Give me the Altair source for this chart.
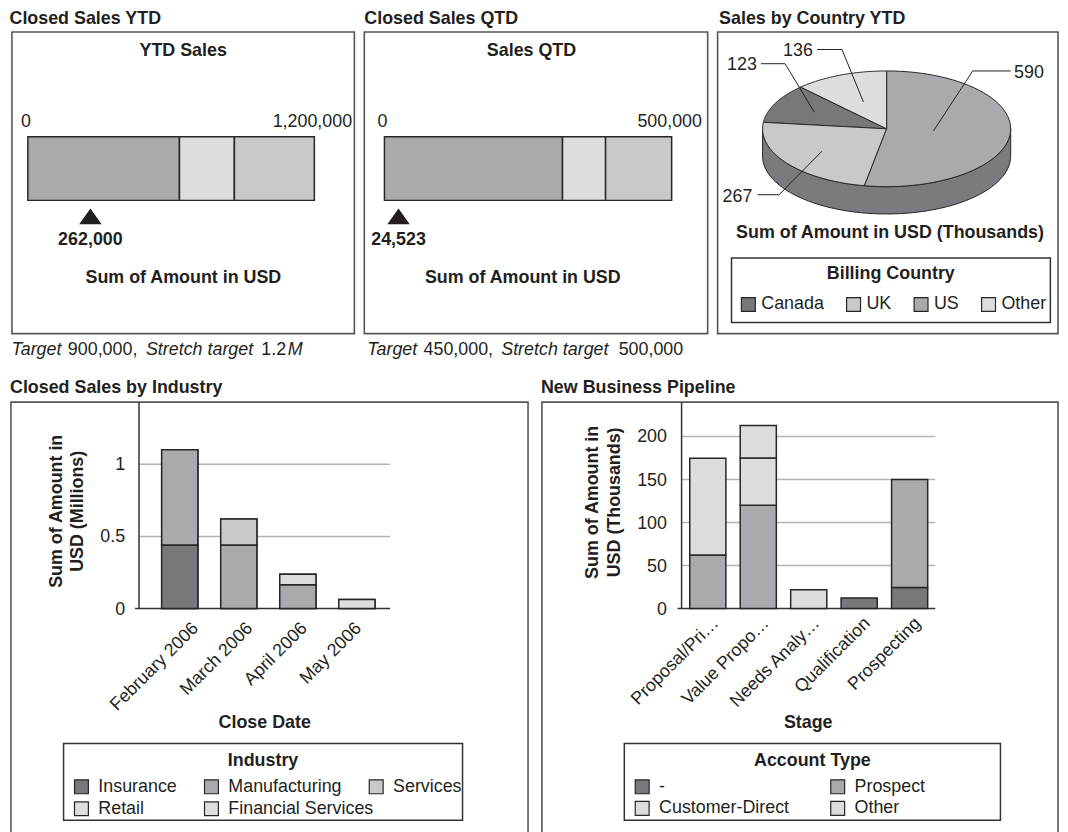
import altair as alt
import pandas as pd

# ---------------- data ----------------
ytd_ranges = [635000, 865000, 1200000]
ytd_actual = 262000
qtd_ranges = [310000, 385000, 500000]
qtd_actual = 24523

countries = ["Canada", "UK", "US", "Other"]
country_amount = [123, 267, 590, 136]

months = ["February 2006", "March 2006", "April 2006", "May 2006"]
industries = ["Insurance", "Manufacturing", "Services", "Retail", "Financial Services"]
ind_insurance = [0.44, 0, 0, 0]
ind_manufacturing = [0.66, 0.44, 0.165, 0]
ind_services = [0, 0.18, 0, 0]
ind_retail = [0, 0, 0.073, 0]
ind_financial = [0, 0, 0, 0.062]
ind_ticks = [0, 0.5, 1]

stages = ["Proposal/Price Quote", "Value Proposition", "Needs Analysis", "Qualification", "Prospecting"]
account_types = ["-", "Prospect", "Customer-Direct", "Other"]
pipe_dash = [0, 0, 0, 12.3, 24.6]
pipe_prospect = [62.4, 120, 0, 0, 125.4]
pipe_customer = [112.3, 55, 22, 0, 0]
pipe_other = [0, 37.8, 0, 0, 0]
pipe_ticks = [0, 50, 100, 150, 200]

# ---------------- style / layout ----------------
FONT = "Liberation Sans"
INK = "#231f20"
EDGE = "#262626"
FRAME = "#555555"
GRID = "#b4b4b4"
DARK, MID, MIDLIGHT, LIGHT = "#77787c", "#a9aaad", "#c8c9cb", "#dcdddf"

W, H = 1060, 824
OFF = 8  # page margin: reference pixel -> canvas pixel


def cx(v):
    return v - OFF


def cy(v):
    return v - OFF


ONE = pd.DataFrame({"k": [0]})


def text(s, x, y, size=18, bold=False, italic=False, align="left", baseline="alphabetic", **kw):
    props = dict(text=s, font=FONT, fontSize=size, color=INK, align=align, baseline=baseline)
    if bold:
        props["fontWeight"] = "bold"
    if italic:
        props["fontStyle"] = "italic"
    props.update(kw)
    return alt.Chart(ONE).mark_text(**props).encode(x=alt.value(cx(x)), y=alt.value(cy(y)))


def frame(x0, y0, x1, y1, color=FRAME, width=1.6):
    return alt.Chart(ONE).mark_rect(fill="transparent", stroke=color, strokeWidth=width).encode(
        x=alt.value(cx(x0)), x2=alt.value(cx(x1)), y=alt.value(cy(y0)), y2=alt.value(cy(y1)))


def seg(x0, y0, x1, y1, color=EDGE, width=1.5):
    return alt.Chart(ONE).mark_rule(color=color, strokeWidth=width).encode(
        x=alt.value(cx(x0)), x2=alt.value(cx(x1)), y=alt.value(cy(y0)), y2=alt.value(cy(y1)))


def legend(x, y, cols, colpad, offset=8, values=None, rowpad=2):
    kw = dict(orient="none", legendX=cx(x), legendY=cy(y), direction="horizontal",
              columns=cols, title=None, symbolType="square", symbolSize=196,
              symbolStrokeColor=EDGE, symbolStrokeWidth=1.2, symbolOpacity=1,
              labelFont=FONT, labelFontSize=18, labelColor=INK, labelOffset=offset,
              columnPadding=colpad, rowPadding=rowpad, padding=0, labelLimit=400)
    if values is not None:
        kw["values"] = values
    return alt.Legend(**kw)


layers = []

# ---------------- frames & titles ----------------
for t, x, y in [("Closed Sales YTD", 9.5, 21), ("Closed Sales QTD", 367, 21),
                ("Sales by Country YTD", 724.5, 21), ("Closed Sales by Industry", 10, 392.7),
                ("New Business Pipeline", 545, 392.7)]:
    layers.append(text(t, x, y, bold=True))

for b in [(12, 29, 357, 333), (367, 29, 713, 333), (723, 29, 1066, 333),
          (11, 402, 532, 845), (546, 402, 1066, 845)]:
    layers.append(frame(*b))


# ---------------- bullet charts ----------------
def bullet(tag, ranges, actual, x0, x1):
    xs = alt.Scale(domain=[0, ranges[-1]], range=[cx(x0), cx(x1)], nice=False, zero=False)
    ys = alt.Scale(domain=[tag], range=[cy(134.7), cy(198.7)], paddingInner=0, paddingOuter=0)
    df = pd.DataFrame({"row": [tag] * len(ranges), "start": [0] + ranges[:-1], "end": ranges,
                       "band": ["b1", "b2", "b3"]})
    bands = alt.Chart(df).mark_bar(stroke=EDGE, strokeWidth=1.5).encode(
        x=alt.X("start:Q", scale=xs, axis=None), x2="end:Q",
        y=alt.Y("row:N", scale=ys, axis=None),
        color=alt.Color("band:N", scale=alt.Scale(domain=["b1", "b2", "b3"],
                                                  range=[MID, LIGHT, MIDLIGHT]), legend=None))
    ends = alt.Chart(pd.DataFrame({"v": [0, ranges[-1]]})).mark_text(
        font=FONT, fontSize=18, color=INK, baseline="alphabetic", align="center", dx=-2).encode(
        x=alt.X("v:Q", scale=xs, axis=None), y=alt.value(cy(125)), text=alt.Text("v:Q", format=","))
    act = pd.DataFrame({"v": [actual]})
    marker = alt.Chart(act).mark_point(shape="M0,-0.7L1,0.7L-1,0.7Z", filled=True, color=INK,
                                       size=511, opacity=1).encode(
        x=alt.X("v:Q", scale=xs, axis=None), y=alt.value(cy(214.9)))
    value = alt.Chart(act).mark_text(font=FONT, fontSize=18, fontWeight="bold", color=INK,
                                     baseline="alphabetic", align="center").encode(
        x=alt.X("v:Q", scale=xs, axis=None), y=alt.value(cy(243.3)),
        text=alt.Text("v:Q", format=","))
    return [bands, ends, marker, value]


layers += bullet("YTD", ytd_ranges, ytd_actual, 28, 316.7)
layers += bullet("QTD", qtd_ranges, qtd_actual, 387.3, 676.7)
layers.append(text("YTD Sales", 184.5, 53, bold=True, align="center"))
layers.append(text("Sales QTD", 535.5, 53, bold=True, align="center"))
layers.append(text("Sum of Amount in USD", 184.7, 282, bold=True, align="center"))
layers.append(text("Sum of Amount in USD", 526.7, 282, bold=True, align="center"))

for s, x, it in [("Target", 11.5, True), ("900,000,", 68.3, False), ("Stretch target", 147, True),
                 ("1.2", 263.3, False), ("M", 290, True),
                 ("Target", 370, True), ("450,000,", 426.7, False), ("Stretch target", 505, True),
                 ("500,000", 623.3, False)]:
    layers.append(text(s, x, 355, italic=it))

# ---------------- 3-D pie ----------------
PCX, PCY = cx(893.3), cy(126.6)
RX, RY, DEPTH = 125, 58.3, 27.5
pie_x = alt.Scale(domain=[-1, 1], range=[PCX - RX, PCX + RX], nice=False, zero=False)
pie_y = alt.Scale(domain=[-1, 1], range=[PCY + RY, PCY - RY], nice=False, zero=False)
pie_clockwise = ["US", "UK", "Canada", "Other"]
pie_colors = [DARK, MIDLIGHT, MID, LIGHT]

# label layout (reference pixels): text centre/baseline, leader start, elbow, leader depth
lab_layout = {
    "Canada": (747.5, 67.7, 766.7, 791.0, 61.0, 0.65),
    "UK": (743.0, 200.0, 763.3, 785.0, 193.0, 0.65),
    "US": (1036.7, 75.0, 1018.3, 980.0, 68.3, 0.38),
    "Other": (804.0, 53.3, 823.3, 848.3, 46.7, 0.50),
}
pie_df = pd.DataFrame({"country": countries, "amount": country_amount})
pie_df["rank"] = [pie_clockwise.index(c) for c in countries]
pie_df["tx"] = [cx(lab_layout[c][0]) for c in countries]
pie_df["ty"] = [cy(lab_layout[c][1]) for c in countries]
pie_df["lx"] = [cx(lab_layout[c][2]) for c in countries]
pie_df["ex"] = [cx(lab_layout[c][3]) for c in countries]
pie_df["ly"] = [cy(lab_layout[c][4]) for c in countries]
pie_df["fr"] = [lab_layout[c][5] for c in countries]

pie_base = (alt.Chart(pie_df)
            .transform_joinaggregate(total="sum(amount)")
            .transform_window(cum="sum(amount)", sort=[alt.SortField("rank")], frame=[None, 0])
            .transform_calculate(a0="2*PI*(datum.cum-datum.amount)/datum.total",
                                 a1="2*PI*datum.cum/datum.total"))

side = (alt.Chart(alt.sequence(0, 61, as_="k"))
        .transform_calculate(a="PI/2 + PI*datum.k/60")
        .transform_calculate(ux="sin(datum.a)", uy="cos(datum.a)",
                             uy2=f"cos(datum.a) - {DEPTH / RY}")
        .mark_area(fill="#7a7b7f", stroke=EDGE, strokeWidth=1, opacity=1)
        .encode(x=alt.X("ux:Q", scale=pie_x, axis=None),
                y=alt.Y("uy:Q", scale=pie_y, axis=None), y2="uy2:Q"))
layers.append(side)

slices = (pie_base
          .transform_calculate(ks="sequence(0, 62)")
          .transform_flatten(["ks"])
          .transform_calculate(a="datum.a0 + (datum.a1 - datum.a0)*clamp((datum.ks-1)/59, 0, 1)",
                               edge="datum.ks > 0 && datum.ks < 61")
          .transform_calculate(ux="datum.edge ? sin(datum.a) : 0",
                               uy="datum.edge ? cos(datum.a) : 0")
          .mark_line(stroke=EDGE, strokeWidth=1, interpolate="linear")
          .encode(x=alt.X("ux:Q", scale=pie_x, axis=None),
                  y=alt.Y("uy:Q", scale=pie_y, axis=None),
                  order=alt.Order("ks:Q"), detail="country:N",
                  fill=alt.Fill("country:N", scale=alt.Scale(domain=countries, range=pie_colors),
                                legend=legend(745, 294.3, 4, 19, offset=4))))
layers.append(slices)

leaders = (pie_base
           .transform_calculate(mid="(datum.a0+datum.a1)/2", ks="[0, 1, 2]")
           .transform_flatten(["ks"])
           .transform_calculate(
               px=f"datum.ks == 0 ? datum.lx : datum.ks == 1 ? datum.ex : {PCX} + {RX}*datum.fr*sin(datum.mid)",
               py=f"datum.ks < 2 ? datum.ly : {PCY} - {RY}*datum.fr*cos(datum.mid)")
           .mark_line(stroke=INK, strokeWidth=1)
           .encode(x=alt.X("px:Q", scale=None, axis=None), y=alt.Y("py:Q", scale=None, axis=None),
                   order=alt.Order("ks:Q"), detail="country:N"))
layers.append(leaders)

pie_labels = alt.Chart(pie_df).mark_text(font=FONT, fontSize=18, color=INK, align="center",
                                         baseline="alphabetic").encode(
    x=alt.X("tx:Q", scale=None, axis=None), y=alt.Y("ty:Q", scale=None, axis=None),
    text="amount:Q")
layers.append(pie_labels)

layers.append(text("Sum of Amount in USD (Thousands)", 896.7, 237, bold=True, align="center"))
layers.append(frame(737, 256.7, 1058.3, 321.7, color="#333333", width=1.5))
layers.append(text("Billing Country", 897.5, 278.3, bold=True, align="center"))


# ---------------- stacked bar charts ----------------
def long_table(cats, groups, series, cat_name, grp_name):
    rows = []
    for gi, (g, vals) in enumerate(zip(groups, series)):
        for c, v in zip(cats, vals):
            if v > 0:
                rows.append({cat_name: c, grp_name: g, "amount": v, "rank": gi})
    return pd.DataFrame(rows)


def bar_panel(df, cats, groups, colors, cat_field, grp_field, ticks, ymax,
              axis_x, x_end, lab_range, lab_y, lab_limit, ytitle, ytitle_pos, xtitle, xtitle_pos,
              tick_right, pad_in, pad_out, align, legends):
    out = []
    xs = alt.Scale(domain=cats, range=[cx(axis_x), cx(x_end)], paddingInner=pad_in,
                   paddingOuter=pad_out, align=align)
    ys = alt.Scale(domain=[0, ymax], range=[cy(610), cy(402)], nice=False, zero=False)
    tdf = pd.DataFrame({"v": ticks})
    grid = alt.Chart(tdf[tdf.v > 0]).mark_rule(color=GRID, strokeWidth=1.5).encode(
        y=alt.Y("v:Q", scale=ys, axis=None), x=alt.value(cx(axis_x)), x2=alt.value(cx(x_end)))
    out.append(grid)
    out.append(seg(axis_x, 402, axis_x, 610, color="#333333", width=1.5))
    base = alt.Chart(tdf[tdf.v == 0]).mark_rule(color="#333333", strokeWidth=1.5).encode(
        y=alt.Y("v:Q", scale=ys, axis=None), x=alt.value(cx(axis_x - 4)), x2=alt.value(cx(x_end)))
    out.append(base)
    # the same stacked bars, each copy carrying one row of the legend
    for leg in legends:
        bars = alt.Chart(df).mark_bar(stroke=EDGE, strokeWidth=1.5, opacity=1).encode(
            x=alt.X(f"{cat_field}:N", scale=xs, axis=None),
            y=alt.Y("amount:Q", stack="zero", scale=ys, axis=None),
            order=alt.Order("rank:Q"),
            color=alt.Color(f"{grp_field}:N", scale=alt.Scale(domain=groups, range=colors),
                            legend=leg))
        out.append(bars)
    ticklab = alt.Chart(tdf).mark_text(font=FONT, fontSize=18, color=INK, align="right",
                                       baseline="middle", dy=1).encode(
        y=alt.Y("v:Q", scale=ys, axis=None), x=alt.value(cx(tick_right)), text="v:Q")
    out.append(ticklab)
    labs = alt.Chart(pd.DataFrame({cat_field: cats})).mark_text(
        font=FONT, fontSize=18, color=INK, align="right", baseline="top", angle=315,
        limit=lab_limit).encode(
        x=alt.X(f"{cat_field}:N", scale=alt.Scale(type="point", domain=cats,
                                                  range=[cx(lab_range[0]), cx(lab_range[1])],
                                                  padding=0), axis=None),
        y=alt.value(cy(lab_y)), text=f"{cat_field}:N")
    out.append(labs)
    out.append(text(ytitle, ytitle_pos[0], ytitle_pos[1], bold=True, align="center",
                    baseline="middle", angle=270, lineHeight=22))
    out.append(text(xtitle, xtitle_pos[0], xtitle_pos[1], bold=True, align="center"))
    return out


ind_df = long_table(months, industries,
                    [ind_insurance, ind_manufacturing, ind_services, ind_retail, ind_financial],
                    "month", "industry")
layers += bar_panel(ind_df, months, industries, [DARK, MID, MIDLIGHT, LIGHT, LIGHT],
                    "month", "industry", ind_ticks, 1.43,
                    140, 393, (190.8, 355.1), 621, 400,
                    ["Sum of Amount in", "USD (Millions)"], (57, 512), "Close Date", (266.7, 730),
                    126, 0.387, 0.32, 0.6,
                    [legend(73, 780.3, 3, 24, values=industries[:3]),
                     legend(73, 802.4, 2, 57, values=industries[3:])])
layers.append(frame(64, 746, 466, 823.3, color="#333333", width=1.5))
layers.append(text("Industry", 265, 769, bold=True, align="center"))

pipe_df = long_table(stages, account_types, [pipe_dash, pipe_prospect, pipe_customer, pipe_other],
                     "stage", "account")
layers += bar_panel(pipe_df, stages, account_types, [DARK, MID, LIGHT, LIGHT],
                    "stage", "account", pipe_ticks, 240,
                    686.7, 942.3, (715, 918.5), 616, 122,
                    ["Sum of Amount in", "USD (Thousands)"], (597.5, 503), "Stage", (814.3, 730),
                    672, 0.284, 0.156, 0.52,
                    [legend(638, 780.3, 2, 38)])
layers.append(frame(629, 746, 1008, 823.3, color="#333333", width=1.5))
layers.append(text("Account Type", 818.5, 769, bold=True, align="center"))

chart = (alt.layer(*layers)
         .resolve_scale(x="independent", y="independent", color="independent", fill="independent")
         .properties(width=W, height=H, padding=0, autosize=alt.AutoSizeParams(type="none"))
         .configure_view(strokeWidth=0))

chart.save("out.html", embed_options={"renderer": "svg", "actions": False})
